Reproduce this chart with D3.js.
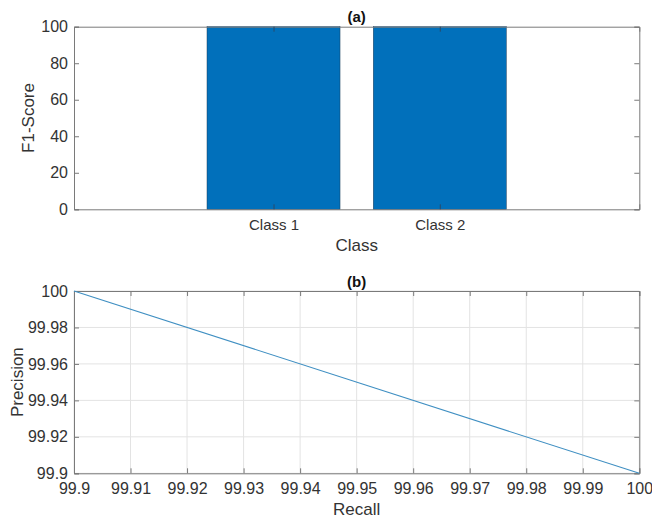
<!DOCTYPE html>
<html><head><meta charset="utf-8">
<script src="https://cdn.jsdelivr.net/npm/d3@7"></script>
<style>body{margin:0;background:#fff}svg{display:block}text{font-family:"Liberation Sans",Arial,sans-serif}</style>
</head><body>
<svg id="c" width="652" height="521"></svg>
<script>
const classes = ["Class 1", "Class 2"];
const f1Scores = [100, 100];
const f1Ticks = [0, 20, 40, 60, 80, 100];
const recall = [99.9, 100];
const precision = [100, 99.9];
const recallTicks = [99.9, 99.91, 99.92, 99.93, 99.94, 99.95, 99.96, 99.97, 99.98, 99.99, 100];
const precisionTicks = [99.9, 99.92, 99.94, 99.96, 99.98, 100];

const svg = d3.select("#c");
const axisCol = "#7a7a7a", textCol = "#333", fs = 16;
const L = 74, R = 639.3;

// Panel (a)
{
  const T = 26.7, B = 209.3;
  const x = d3.scaleLinear().domain([-0.2, 3.2]).range([L, R]);
  const y = d3.scaleLinear().domain([0, 100]).range([B, T]);
  const g = svg.append("g");
  const bw = 0.8;
  g.selectAll("rect.bar").data(classes).join("rect")
    .attr("x", (d, i) => x(i + 1 - bw / 2))
    .attr("width", (d, i) => x(i + 1 + bw / 2) - x(i + 1 - bw / 2))
    .attr("y", (d, i) => y(f1Scores[i]))
    .attr("height", (d, i) => y(0) - y(f1Scores[i]))
    .attr("fill", "#0170bb").attr("stroke", "#1a3a5a").attr("stroke-width", 0.5);
  const yl = d3.axisLeft(y).tickValues(f1Ticks).tickSize(-5).tickPadding(6).tickFormat(d3.format("d"));
  const yr = d3.axisRight(y).tickValues(f1Ticks).tickSize(-5).tickFormat("");
  const xb = d3.axisBottom(x).tickValues([1, 2]).tickSize(-5).tickPadding(10).tickFormat((d) => classes[d - 1]);
  const xt = d3.axisTop(x).tickValues([1, 2]).tickSize(-5).tickFormat("");
  [[yl, `translate(${L},0)`, axisCol], [yr, `translate(${R},0)`, axisCol], [xb, `translate(0,${B})`, "#2a4a6a"], [xt, `translate(0,${T})`, "#2a4a6a"]].forEach(([ax, tr, tc]) => {
    const a = g.append("g").attr("transform", tr).call(ax);
    a.select(".domain").attr("stroke", axisCol);
    a.selectAll(".tick line").attr("stroke", tc);
    a.selectAll("text").attr("fill", textCol).style("font-size", fs + "px");
  });
  g.selectAll("text").filter(function(){return this.textContent.startsWith("Class");}).style("font-size", "15px");
  g.append("text").attr("x", (L + R) / 2).attr("y", 251).attr("text-anchor", "middle").attr("fill", textCol).style("font-size", "17px").text("Class");
  g.append("text").attr("transform", `translate(34,${(T + B) / 2}) rotate(-90)`).attr("text-anchor", "middle").attr("fill", textCol).style("font-size", "17px").text("F1-Score");
  g.append("text").attr("x", (L + R) / 2).attr("y", 22).attr("text-anchor", "middle").attr("fill", "#111").style("font-size", "15px").style("font-weight", "bold").text("(a)");
}

// Panel (b)
{
  const T = 291, B = 473.3;
  const x = d3.scaleLinear().domain([99.9, 100]).range([L, R]);
  const y = d3.scaleLinear().domain([99.9, 100]).range([B, T]);
  const g = svg.append("g");
  const fmt = d => String(+d.toFixed(2));
  g.append("g").selectAll("line").data(recallTicks).join("line")
    .attr("x1", d => x(d)).attr("x2", d => x(d)).attr("y1", T).attr("y2", B)
    .attr("stroke", "#e3e3e3");
  g.append("g").selectAll("line").data(precisionTicks).join("line")
    .attr("y1", d => y(d)).attr("y2", d => y(d)).attr("x1", L).attr("x2", R)
    .attr("stroke", "#e3e3e3");
  const yl = d3.axisLeft(y).tickValues(precisionTicks).tickSize(-5).tickPadding(6).tickFormat(fmt);
  const yr = d3.axisRight(y).tickValues(precisionTicks).tickSize(-5).tickFormat("");
  const xb = d3.axisBottom(x).tickValues(recallTicks).tickSize(-5).tickPadding(9).tickFormat(fmt);
  const xt = d3.axisTop(x).tickValues(recallTicks).tickSize(-5).tickFormat("");
  [[yl, `translate(${L},0)`], [yr, `translate(${R},0)`], [xb, `translate(0,${B})`], [xt, `translate(0,${T})`]].forEach(([ax, tr]) => {
    const a = g.append("g").attr("transform", tr).call(ax);
    a.select(".domain").attr("stroke", axisCol);
    a.selectAll(".tick line").attr("stroke", axisCol);
    a.selectAll("text").attr("fill", textCol).style("font-size", fs + "px");
  });
  const line = d3.line().x(d => x(d[0])).y(d => y(d[1]));
  g.append("path").datum(recall.map((r, i) => [r, precision[i]])).attr("d", line)
    .attr("fill", "none").attr("stroke", "#3f8fc2").attr("stroke-width", 1.1);
  g.append("text").attr("x", (L + R) / 2).attr("y", 515).attr("text-anchor", "middle").attr("fill", textCol).style("font-size", "17px").text("Recall");
  g.append("text").attr("transform", `translate(23,${(T + B) / 2}) rotate(-90)`).attr("text-anchor", "middle").attr("fill", textCol).style("font-size", "17px").text("Precision");
  g.append("text").attr("x", (L + R) / 2).attr("y", 287).attr("text-anchor", "middle").attr("fill", "#111").style("font-size", "15px").style("font-weight", "bold").text("(b)");
}
</script>
</body></html>
